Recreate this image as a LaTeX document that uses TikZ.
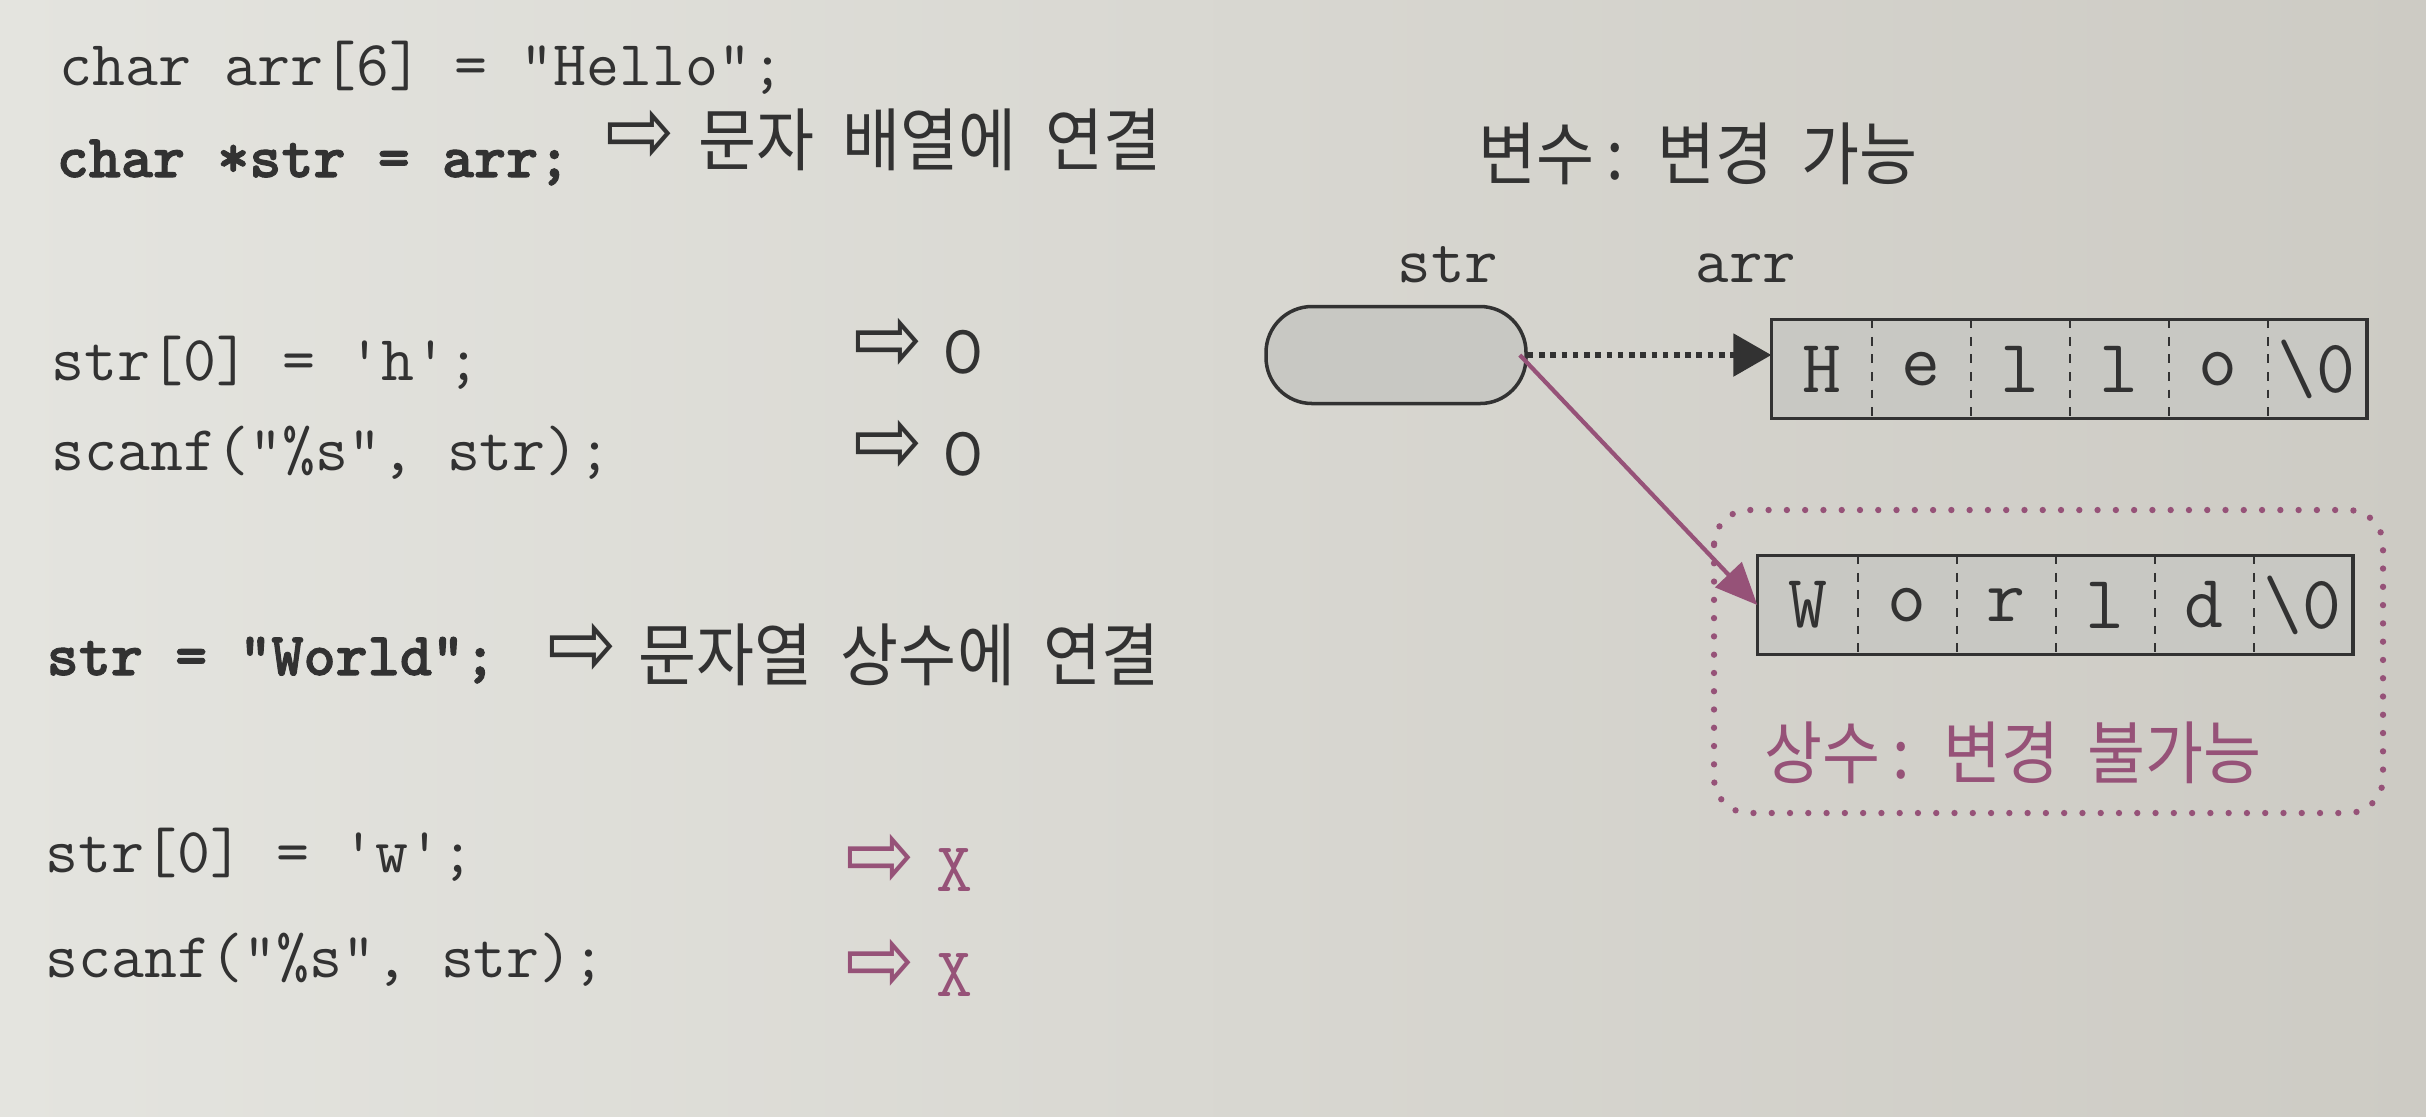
\documentclass[tikz,border=0pt]{standalone}
\usepackage{fontspec}
\newfontfamily\kr[FakeStretch=0.92, WordSpace=2.0]{Noto Sans CJK KR}
\newfontfamily\sym{DejaVu Sans}
\newfontfamily\heavytt[Extension=.otf, FakeBold=1.6]{lmmonolt10-bold}
\usetikzlibrary{arrows.meta}

\definecolor{paper}{RGB}{228,228,223}
\definecolor{paperdark}{RGB}{205,203,196}
\definecolor{ink}{RGB}{50,50,50}
\definecolor{cellgray}{RGB}{200,200,195}
\definecolor{plum}{RGB}{150,82,120}

\newcommand{\codefont}{\fontsize{18.2}{20}\selectfont\ttfamily}
\newcommand{\boldcode}{\fontsize{17.4}{20}\selectfont\heavytt}
\newcommand{\krfont}{\fontsize{19.5}{22}\selectfont\kr}
\newcommand{\arrfont}{\fontsize{20}{22}\selectfont\sym}
\newcommand{\hintarrow}{\scalebox{1.18}[1.35]{⇨}}

\tikzset{
  codeline/.style={anchor=base west, inner sep=0pt, text=ink, font=\codefont},
  boldline/.style={codeline, font=\boldcode},
  note/.style={anchor=west, inner sep=0pt, text=ink, font=\krfont},
  hint/.style={inner sep=0pt, text=ink, font=\arrfont},
  okmark/.style={inner sep=0pt, text=ink, font=\fontsize{16.5}{18}\selectfont\kr},
  nomark/.style={inner sep=0pt, text=plum, font=\fontsize{20}{22}\selectfont\ttfamily},
  cell/.style={minimum width=0.99cm, minimum height=0.98cm, inner sep=0pt,
    fill=cellgray, text=ink, font=\fontsize{21.5}{22}\selectfont\ttfamily},
  arrayline/.style={draw=ink, line width=1pt},
  divider/.style={draw=ink, line width=0.7pt, dash pattern=on 2.5pt off 2.5pt},
  ptrbox/.style={draw=ink, line width=1pt, fill=cellgray, rounded corners=0.46cm,
    minimum width=2.6cm, minimum height=0.97cm},
  ptrarrow/.style={draw=ink, line width=1.6pt, dash pattern=on 1.6pt off 1.6pt,
    -{Triangle[length=0.38cm,width=0.42cm]}},
  constarrow/.style={draw=plum, line width=1.2pt, -{Triangle[length=0.42cm,width=0.36cm]}},
  constframe/.style={draw=plum, line width=1.8pt, line cap=round,
    dash pattern=on 0pt off 5.2pt, rounded corners=0.35cm}
}

\begin{document}
\begin{tikzpicture}
    % Fondo
    \shade[left color=paper, right color=paperdark] (0,0) rectangle (24.26,-11.16);
    \useasboundingbox (0,0) rectangle (24.26,-11.16);

    % Codigo
    \node[codeline] (c1) at (0.59,-0.85) {char arr[6] = "Hello";};
    \node[boldline] (c2) at (0.56,-1.77) {char *str = arr;};
    \node[hint] (a2) at (6.40,-1.37) {\hintarrow};
    \node[note] (n2) at (6.98,-1.40) {문자 배열에 연결};

    \node[codeline] (c3) at (0.51,-3.80) {str[0] = 'h';};
    \node[hint] (a3) at (8.88,-3.45) {\hintarrow};
    \node[okmark] (o3) at (9.63,-3.52) {O};
    \node[codeline] (c4) at (0.51,-4.70) {scanf("\%s", str);};
    \node[hint] (a4) at (8.88,-4.47) {\hintarrow};
    \node[okmark] (o4) at (9.63,-4.54) {O};

    \node[boldline] (c5) at (0.46,-6.75) {str = "World";};
    \node[hint] (a5) at (5.82,-6.50) {\hintarrow};
    \node[note] (n5) at (6.38,-6.55) {문자열 상수에 연결};

    \node[codeline] (c6) at (0.45,-8.72) {str[0] = 'w';};
    \node[hint, text=plum] (a6) at (8.80,-8.61) {\hintarrow};
    \node[nomark] (x6) at (9.55,-8.70) {X};
    \node[codeline] (c7) at (0.45,-9.77) {scanf("\%s", str);};
    \node[hint, text=plum] (a7) at (8.80,-9.66) {\hintarrow};
    \node[nomark] (x7) at (9.55,-9.75) {X};

    % Variable str y arreglo arr
    \node[note] (var) at (14.78,-1.54) {변수\hspace{0.12cm}: 변경 가능};
    \node[codeline, anchor=base, font=\fontsize{18.5}{20}\selectfont\ttfamily] (strlbl) at (14.48,-2.82) {str};
    \node[codeline, anchor=base, font=\fontsize{18.5}{20}\selectfont\ttfamily] (arrlbl) at (17.46,-2.82) {arr};
    \node[ptrbox] (strbox) at (13.96,-3.55) {};

    \foreach \c [count=\i] in {H,e,l,l,o,{\textbackslash0}} {
        \node[cell] (h\i) at ({17.72+(\i-0.5)*0.99},-3.69) {\c};
    }
    \draw[arrayline] (h1.north west) rectangle (h6.south east);
    \foreach \i in {1,...,5} {
        \draw[divider] (h\i.north east) -- (h\i.south east);
    }

    % Constante "World"
    \foreach \c [count=\i] in {W,o,r,l,d,{\textbackslash0}} {
        \node[cell] (w\i) at ({17.58+(\i-0.5)*0.99},-6.05) {\c};
    }
    \draw[arrayline] (w1.north west) rectangle (w6.south east);
    \foreach \i in {1,...,5} {
        \draw[divider] (w\i.north east) -- (w\i.south east);
    }
    \draw[constframe] (17.14,-5.10) rectangle (23.83,-8.13);
    \node[note, text=plum] (const) at (17.64,-7.53) {상수\hspace{0.12cm}: 변경 불가능};

    % Flechas
    \draw[ptrarrow] (strbox.east) -- (strbox.east -| h1.west);
    \draw[constarrow] ([xshift=-0.08cm]strbox.east) -- (w1.west);
\end{tikzpicture}
\end{document}
